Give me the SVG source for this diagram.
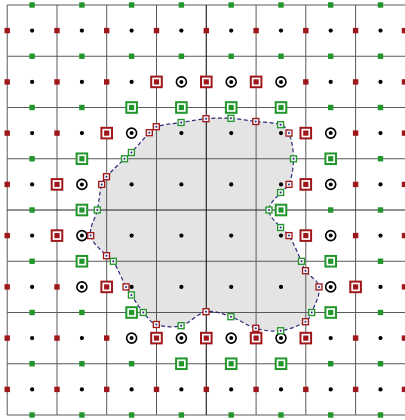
<svg xmlns="http://www.w3.org/2000/svg" width="405" height="420" viewBox="0 0 405 420">
<style>
.grid{stroke:#5a5a5a;stroke-width:1;fill:none}
.gridc{stroke:#222;stroke-width:1.15;fill:none}
</style>
<defs>
<path id="blob" d="M149.3,132.7 C151.43,130.49 153.38,127.64 156.3,126.7 C164.28,124.14 172.83,123.83 181.1,122.5 C189.38,121.17 197.7,119.4 206,118.7 C214.3,118 222.6,117.83 230.9,118.3 C239.2,118.77 247.52,120.43 255.8,121.5 C264.08,122.57 272.79,121.97 280.6,124.7 C284.34,126.01 287.6,129.4 289,133.1 C292.08,141.23 293.5,150.1 293.5,158.8 C293.5,167.5 292.1,176.3 289,184.4 C287.61,188.03 283,189.43 280.6,192.5 C276.29,198.02 269,203 269,210 C269,217 276.29,221.98 280.6,227.5 C283,230.57 286.95,232.29 289,235.6 C294.01,243.71 297.45,252.68 301.5,261.3 C302.95,264.38 303.58,267.89 305.5,270.7 C309.47,276.51 317.97,279.950 319,286.9 C320.3,295.67 314.91,304.23 311.7,312.5 C310.36,315.95 308.69,319.83 305.5,321.7 C297.88,326.16 289.35,329.53 280.6,330.7 C272.32,331.8 264.08,330.63 255.8,328.3 C247.52,325.97 239.2,319.47 230.9,316.7 C222.6,313.93 214.3,310.2 206,311.7 C197.7,313.2 189.38,323.57 181.1,325.7 C172.82,327.83 162.6,326.7 156.3,324.5 C150.73,322.55 147.11,317.01 143.3,312.5 C138.75,307.11 135.35,300.85 131.4,295 C129.59,292.32 127.53,289.75 126,286.9 C121.49,278.5 118.35,269.38 113.3,261.3 C111.75,258.82 108.43,257.9 106.5,255.7 C100.87,249.29 92.38,243.97 90.7,235.6 C88.97,226.97 95.45,218.61 97.3,210 C99.12,201.53 99.4,192.75 101.7,184.4 C102.5,181.49 104.49,178.96 106.5,176.7 C112.13,170.38 118.43,164.7 124.5,158.8 C126.73,156.63 129.26,154.75 131.4,152.5 C137.53,146.05 143.12,139.1 149.3,132.7 Z"/>
<circle id="d" r="2.1" fill="#000"/>
<g id="b"><circle r="5" fill="#fff" stroke="#000" stroke-width="1.6"/><circle r="2" fill="#000"/></g>
<rect id="r" x="-2.7" y="-2.7" width="5.4" height="5.4" fill="#a0171b"/>
<rect id="g" x="-2.7" y="-2.7" width="5.4" height="5.4" fill="#21962b"/>
<g id="R"><rect x="-5.3" y="-5.3" width="10.6" height="10.6" fill="#fff" stroke="#a0171b" stroke-width="2"/><rect x="-2.6" y="-2.6" width="5.2" height="5.2" fill="#a0171b"/></g>
<g id="G"><rect x="-5.3" y="-5.3" width="10.6" height="10.6" fill="#fff" stroke="#21962b" stroke-width="2"/><rect x="-2.6" y="-2.6" width="5.2" height="5.2" fill="#21962b"/></g>
<g id="hr"><rect x="-3" y="-3" width="6" height="6" fill="#f6f6f6" stroke="#a0171b" stroke-width="1.3"/><circle r="1" fill="#2a2a7a"/></g>
<g id="hg"><rect x="-3" y="-3" width="6" height="6" fill="#f6f6f6" stroke="#21962b" stroke-width="1.3"/><circle r="1" fill="#2a2a7a"/></g>
</defs>
<rect width="405" height="420" fill="#fff"/>
<g id="region"><use href="#blob" fill="#e4e4e4" stroke="none"/></g>
<g id="grid">
<path class="grid" d="M7.2,5V415M57,5V415M106.7,5V415M156.5,5V415M256.1,5V415M305.8,5V415M355.6,5V415M7.2,5H405M7.2,56.25H405M7.2,107.5H405M7.2,158.75H405M7.2,261.25H405M7.2,312.5H405M7.2,363.75H405M7.2,415H405"/>
<path class="gridc" d="M206.3,5V415M7.2,210H405"/>
</g>
<g id="interface"><use href="#blob" fill="none" stroke="#2a2a7a" stroke-width="1.2" stroke-dasharray="4 2.5"/></g>
<g id="cell-centers">
<use href="#d" x="32.1" y="30.6"/><use href="#d" x="81.9" y="30.6"/><use href="#d" x="131.6" y="30.6"/><use href="#d" x="181.4" y="30.6"/><use href="#d" x="231.2" y="30.6"/><use href="#d" x="281" y="30.6"/><use href="#d" x="330.7" y="30.6"/><use href="#d" x="380.5" y="30.6"/>
<use href="#d" x="32.1" y="81.9"/><use href="#d" x="81.9" y="81.9"/><use href="#d" x="131.6" y="81.9"/><use href="#b" x="181.4" y="81.9"/><use href="#b" x="231.2" y="81.9"/><use href="#b" x="281" y="81.9"/><use href="#d" x="330.7" y="81.9"/><use href="#d" x="380.5" y="81.9"/>
<use href="#d" x="32.1" y="133.1"/><use href="#d" x="81.9" y="133.1"/><use href="#b" x="131.6" y="133.1"/><use href="#d" x="181.4" y="133.1"/><use href="#d" x="231.2" y="133.1"/><use href="#d" x="281" y="133.1"/><use href="#b" x="330.7" y="133.1"/><use href="#d" x="380.5" y="133.1"/>
<use href="#d" x="32.1" y="184.4"/><use href="#b" x="81.9" y="184.4"/><use href="#d" x="131.6" y="184.4"/><use href="#d" x="181.4" y="184.4"/><use href="#d" x="231.2" y="184.4"/><use href="#d" x="281" y="184.4"/><use href="#b" x="330.7" y="184.4"/><use href="#d" x="380.5" y="184.4"/>
<use href="#d" x="32.1" y="235.6"/><use href="#b" x="81.9" y="235.6"/><use href="#d" x="131.6" y="235.6"/><use href="#d" x="181.4" y="235.6"/><use href="#d" x="231.2" y="235.6"/><use href="#d" x="281" y="235.6"/><use href="#b" x="330.7" y="235.6"/><use href="#d" x="380.5" y="235.6"/>
<use href="#d" x="32.1" y="286.9"/><use href="#b" x="81.9" y="286.9"/><use href="#d" x="131.6" y="286.9"/><use href="#d" x="181.4" y="286.9"/><use href="#d" x="231.2" y="286.9"/><use href="#d" x="281" y="286.9"/><use href="#b" x="330.7" y="286.9"/><use href="#d" x="380.5" y="286.9"/>
<use href="#d" x="32.1" y="338.1"/><use href="#d" x="81.9" y="338.1"/><use href="#b" x="131.6" y="338.1"/><use href="#b" x="181.4" y="338.1"/><use href="#b" x="231.2" y="338.1"/><use href="#b" x="281" y="338.1"/><use href="#d" x="330.7" y="338.1"/><use href="#d" x="380.5" y="338.1"/>
<use href="#d" x="32.1" y="389.4"/><use href="#d" x="81.9" y="389.4"/><use href="#d" x="131.6" y="389.4"/><use href="#d" x="181.4" y="389.4"/><use href="#d" x="231.2" y="389.4"/><use href="#d" x="281" y="389.4"/><use href="#d" x="330.7" y="389.4"/><use href="#d" x="380.5" y="389.4"/>
</g>
<g id="x-faces">
<use href="#r" x="7.2" y="30.6"/><use href="#r" x="57" y="30.6"/><use href="#r" x="106.7" y="30.6"/><use href="#r" x="156.5" y="30.6"/><use href="#r" x="206.3" y="30.6"/><use href="#r" x="256.1" y="30.6"/><use href="#r" x="305.8" y="30.6"/><use href="#r" x="355.6" y="30.6"/><use href="#r" x="404.5" y="30.6"/>
<use href="#r" x="7.2" y="81.9"/><use href="#r" x="57" y="81.9"/><use href="#r" x="106.7" y="81.9"/><use href="#R" x="156.5" y="81.9"/><use href="#R" x="206.3" y="81.9"/><use href="#R" x="256.1" y="81.9"/><use href="#r" x="305.8" y="81.9"/><use href="#r" x="355.6" y="81.9"/><use href="#r" x="404.5" y="81.9"/>
<use href="#r" x="7.2" y="133.1"/><use href="#r" x="57" y="133.1"/><use href="#R" x="106.7" y="133.1"/><use href="#R" x="305.8" y="133.1"/><use href="#r" x="355.6" y="133.1"/><use href="#r" x="404.5" y="133.1"/>
<use href="#r" x="7.2" y="184.4"/><use href="#R" x="57" y="184.4"/><use href="#R" x="305.8" y="184.4"/><use href="#r" x="355.6" y="184.4"/><use href="#r" x="404.5" y="184.4"/>
<use href="#r" x="7.2" y="235.6"/><use href="#R" x="57" y="235.6"/><use href="#R" x="305.8" y="235.6"/><use href="#r" x="355.6" y="235.6"/><use href="#r" x="404.5" y="235.6"/>
<use href="#r" x="7.2" y="286.9"/><use href="#r" x="57" y="286.9"/><use href="#R" x="106.7" y="286.9"/><use href="#R" x="355.6" y="286.9"/><use href="#r" x="404.5" y="286.9"/>
<use href="#r" x="7.2" y="338.1"/><use href="#r" x="57" y="338.1"/><use href="#r" x="106.7" y="338.1"/><use href="#R" x="156.5" y="338.1"/><use href="#R" x="206.3" y="338.1"/><use href="#R" x="256.1" y="338.1"/><use href="#R" x="305.8" y="338.1"/><use href="#r" x="355.6" y="338.1"/><use href="#r" x="404.5" y="338.1"/>
<use href="#r" x="7.2" y="389.4"/><use href="#r" x="57" y="389.4"/><use href="#r" x="106.7" y="389.4"/><use href="#r" x="156.5" y="389.4"/><use href="#r" x="206.3" y="389.4"/><use href="#r" x="256.1" y="389.4"/><use href="#r" x="305.8" y="389.4"/><use href="#r" x="355.6" y="389.4"/><use href="#r" x="404.5" y="389.4"/>
</g>
<g id="y-faces">
<use href="#g" x="32.1" y="5"/><use href="#g" x="81.9" y="5"/><use href="#g" x="131.6" y="5"/><use href="#g" x="181.4" y="5"/><use href="#g" x="231.2" y="5"/><use href="#g" x="281" y="5"/><use href="#g" x="330.7" y="5"/><use href="#g" x="380.5" y="5"/>
<use href="#g" x="32.1" y="56.25"/><use href="#g" x="81.9" y="56.25"/><use href="#g" x="131.6" y="56.25"/><use href="#g" x="181.4" y="56.25"/><use href="#g" x="231.2" y="56.25"/><use href="#g" x="281" y="56.25"/><use href="#g" x="330.7" y="56.25"/><use href="#g" x="380.5" y="56.25"/>
<use href="#g" x="32.1" y="107.5"/><use href="#g" x="81.9" y="107.5"/><use href="#G" x="131.6" y="107.5"/><use href="#G" x="181.4" y="107.5"/><use href="#G" x="231.2" y="107.5"/><use href="#G" x="281" y="107.5"/><use href="#g" x="330.7" y="107.5"/><use href="#g" x="380.5" y="107.5"/>
<use href="#g" x="32.1" y="158.75"/><use href="#G" x="81.9" y="158.75"/><use href="#G" x="330.7" y="158.75"/><use href="#g" x="380.5" y="158.75"/>
<use href="#g" x="32.1" y="210"/><use href="#G" x="81.9" y="210"/><use href="#G" x="281" y="210"/><use href="#g" x="330.7" y="210"/><use href="#g" x="380.5" y="210"/>
<use href="#g" x="32.1" y="261.25"/><use href="#G" x="81.9" y="261.25"/><use href="#G" x="330.7" y="261.25"/><use href="#g" x="380.5" y="261.25"/>
<use href="#g" x="32.1" y="312.5"/><use href="#g" x="81.9" y="312.5"/><use href="#G" x="131.6" y="312.5"/><use href="#G" x="330.7" y="312.5"/><use href="#g" x="380.5" y="312.5"/>
<use href="#g" x="32.1" y="363.75"/><use href="#g" x="81.9" y="363.75"/><use href="#g" x="131.6" y="363.75"/><use href="#G" x="181.4" y="363.75"/><use href="#G" x="231.2" y="363.75"/><use href="#G" x="281" y="363.75"/><use href="#g" x="330.7" y="363.75"/><use href="#g" x="380.5" y="363.75"/>
<use href="#g" x="32.1" y="415"/><use href="#g" x="81.9" y="415"/><use href="#g" x="131.6" y="415"/><use href="#g" x="181.4" y="415"/><use href="#g" x="231.2" y="415"/><use href="#g" x="281" y="415"/><use href="#g" x="330.7" y="415"/><use href="#g" x="380.5" y="415"/>
</g>
<g id="interface-points">
<use href="#hr" x="149.3" y="132.7"/><use href="#hr" x="156.3" y="126.7"/><use href="#hg" x="181.1" y="122.5"/><use href="#hr" x="206" y="118.7"/><use href="#hg" x="230.9" y="118.3"/><use href="#hr" x="255.8" y="121.5"/><use href="#hg" x="280.6" y="124.7"/><use href="#hr" x="289" y="133.1"/><use href="#hg" x="293.5" y="158.8"/><use href="#hr" x="289" y="184.4"/><use href="#hg" x="280.6" y="192.5"/><use href="#hg" x="269" y="210"/><use href="#hg" x="280.6" y="227.5"/><use href="#hr" x="289" y="235.6"/><use href="#hg" x="301.5" y="261.3"/><use href="#hr" x="305.5" y="270.7"/><use href="#hr" x="319" y="286.9"/><use href="#hg" x="311.7" y="312.5"/><use href="#hr" x="305.5" y="321.7"/><use href="#hg" x="280.6" y="330.7"/><use href="#hr" x="255.8" y="328.3"/><use href="#hg" x="230.9" y="316.7"/><use href="#hr" x="206" y="311.7"/><use href="#hg" x="181.1" y="325.7"/><use href="#hr" x="156.3" y="324.5"/><use href="#hg" x="143.3" y="312.5"/><use href="#hg" x="131.4" y="295"/><use href="#hr" x="126" y="286.9"/><use href="#hg" x="113.3" y="261.3"/><use href="#hr" x="106.5" y="255.7"/><use href="#hr" x="90.7" y="235.6"/><use href="#hg" x="97.3" y="210"/><use href="#hr" x="101.7" y="184.4"/><use href="#hr" x="106.5" y="176.7"/><use href="#hg" x="124.5" y="158.8"/><use href="#hg" x="131.4" y="152.5"/>
</g>
</svg>
